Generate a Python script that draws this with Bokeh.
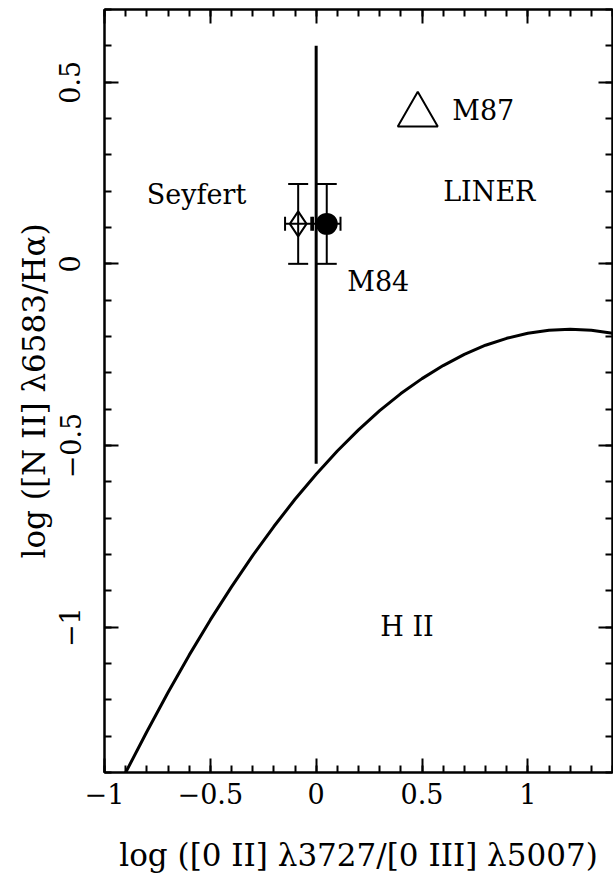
import numpy as np
from bokeh.plotting import figure
from bokeh.models import (ColumnDataSource, FixedTicker, LinearAxis, Whisker,
                          TeeHead, Range1d, CustomJSTickFormatter)
from bokeh.embed import file_html
from bokeh.resources import INLINE
from bokeh.core.properties import value

# ---------------- data ----------------
# H II / AGN dividing curve
curve_x = [-0.9, -0.8, -0.7, -0.6, -0.5, -0.4, -0.3, -0.2, -0.1, 0.0,
           0.1, 0.2, 0.3, 0.4, 0.5, 0.6, 0.7, 0.8, 0.9, 1.0,
           1.1, 1.2, 1.3, 1.4]
curve_y = [-1.40, -1.288, -1.18, -1.077, -0.98, -0.889, -0.803, -0.723, -0.648, -0.579,
           -0.515, -0.457, -0.404, -0.357, -0.316, -0.28, -0.249, -0.224, -0.205, -0.191,
           -0.183, -0.180, -0.183, -0.191]

# Seyfert / LINER divider (vertical line)
divider_x = [0.0]
divider_y0 = [-0.55]
divider_y1 = [0.60]

# M84 (filled circle) with error bars
m84_x = [0.05]
m84_y = [0.11]
m84_xerr = [0.065]
m84_yerr = [0.11]

# open diamond with error bars
dia_x = [-0.085]
dia_y = [0.11]
dia_xerr = [0.062]
dia_yerr = [0.11]

# M87 (open triangle)
m87_x = [0.48]
m87_y = [0.41]

# region / object labels
label_text = ["Seyfert", "LINER", "M87", "M84", "H II"]
label_x = [-0.80, 0.60, 0.643, 0.147, 0.303]
label_y = [0.19, 0.198, 0.423, -0.049, -0.997]

# ticks
x_major = [-1, -0.5, 0, 0.5, 1]
x_major_labels = ["\u22121", "\u22120.5", "0", "0.5", "1"]
y_major = [-1, -0.5, 0, 0.5]
y_major_labels = ["\u22121", "\u22120.5", "0", "0.5"]

x_label = "log ([0 II] \u03bb3727/[0 III] \u03bb5007)"
y_label = "log ([N II] \u03bb6583/H\u03b1)"

FONT = "DejaVu Serif"
FS = "27px"
FS_AXIS = "31px"

# ---------------- figure ----------------
p = figure(width=613, height=882,
           x_range=Range1d(-1, 1.4), y_range=Range1d(-1.4, 0.7),
           output_backend="svg", toolbar_location=None,
           min_border_left=104, min_border_right=1,
           min_border_top=9, min_border_bottom=110)
p.xgrid.grid_line_color = None
p.ygrid.grid_line_color = None
p.outline_line_color = "black"
p.outline_line_width = 2
p.background_fill_color = "white"
p.border_fill_color = "white"

x_minor = [round(v, 2) for v in np.arange(-1.0, 1.41, 0.1)]
y_minor = [round(v, 2) for v in np.arange(-1.4, 0.71, 0.1)]
xt = FixedTicker(ticks=x_major, minor_ticks=x_minor)
yt = FixedTicker(ticks=y_major, minor_ticks=y_minor)


def style_axis(ax, show_labels):
    ax.axis_line_width = 2
    ax.axis_line_color = "black"
    ax.major_tick_in = 14
    ax.major_tick_out = 0
    ax.minor_tick_in = 7
    ax.minor_tick_out = 0
    ax.major_tick_line_width = 2
    ax.minor_tick_line_width = 2
    ax.major_tick_line_color = "black"
    ax.minor_tick_line_color = "black"
    if show_labels:
        ax.major_label_text_font = FONT
        ax.major_label_text_font_size = FS
        ax.major_label_text_color = "black"
        ax.axis_label_text_font = FONT
        ax.axis_label_text_font_size = FS_AXIS
        ax.axis_label_text_font_style = "normal"
        ax.axis_label_text_color = "black"
    else:
        ax.formatter = CustomJSTickFormatter(code="return ''")
        ax.major_label_standoff = 0


xa = p.xaxis[0]
xa.ticker = xt
xa.major_label_overrides = {t: s for t, s in zip(x_major, x_major_labels)}
style_axis(xa, True)
xa.major_label_standoff = 10
xa.axis_label = x_label
xa.axis_label_standoff = 30

ya = p.yaxis[0]
ya.ticker = yt
ya.major_label_overrides = {t: s for t, s in zip(y_major, y_major_labels)}
style_axis(ya, True)
ya.major_label_orientation = "vertical"
ya.major_label_standoff = 24
ya.axis_label = y_label
ya.axis_label_standoff = 5

top = LinearAxis(ticker=xt)
style_axis(top, False)
p.add_layout(top, "above")
right = LinearAxis(ticker=yt)
style_axis(right, False)
p.add_layout(right, "right")

# ---------------- glyphs ----------------
p.line(curve_x, curve_y, line_color="black", line_width=3)
p.segment(x0=divider_x, y0=divider_y0, x1=divider_x, y1=divider_y1,
          line_color="black", line_width=3)


def add_errors(xs, ys, xerr, yerr):
    src = ColumnDataSource(dict(
        x=xs, y=ys,
        xl=[a - e for a, e in zip(xs, xerr)], xu=[a + e for a, e in zip(xs, xerr)],
        yl=[a - e for a, e in zip(ys, yerr)], yu=[a + e for a, e in zip(ys, yerr)]))
    wy = Whisker(source=src, base="x", lower="yl", upper="yu", dimension="height",
                 line_width=2, line_color="black",
                 upper_head=TeeHead(size=20, line_width=2, line_color="black"),
                 lower_head=TeeHead(size=20, line_width=2, line_color="black"))
    wx = Whisker(source=src, base="y", lower="xl", upper="xu", dimension="width",
                 line_width=2, line_color="black",
                 upper_head=TeeHead(size=14, line_width=2, line_color="black"),
                 lower_head=TeeHead(size=14, line_width=2, line_color="black"))
    wy.level = "underlay"
    wx.level = "underlay"
    p.add_layout(wy)
    p.add_layout(wx)


add_errors(m84_x, m84_y, m84_xerr, m84_yerr)
add_errors(dia_x, dia_y, dia_xerr, dia_yerr)

p.scatter(m84_x, m84_y, marker="circle", size=20, fill_color="black",
          line_color="black", line_width=2)
p.scatter(dia_x, dia_y, marker="diamond", size=25, fill_color=None,
          line_color="black", line_width=2)
p.scatter(m87_x, m87_y, marker="triangle", size=40, fill_color=None,
          line_color="black", line_width=2)

p.text(x=label_x, y=label_y, text=label_text, text_font=value(FONT),
       text_font_size=FS, text_align="left", text_baseline="alphabetic",
       text_color="black")

open("out.html", "w").write(file_html(p, INLINE))
